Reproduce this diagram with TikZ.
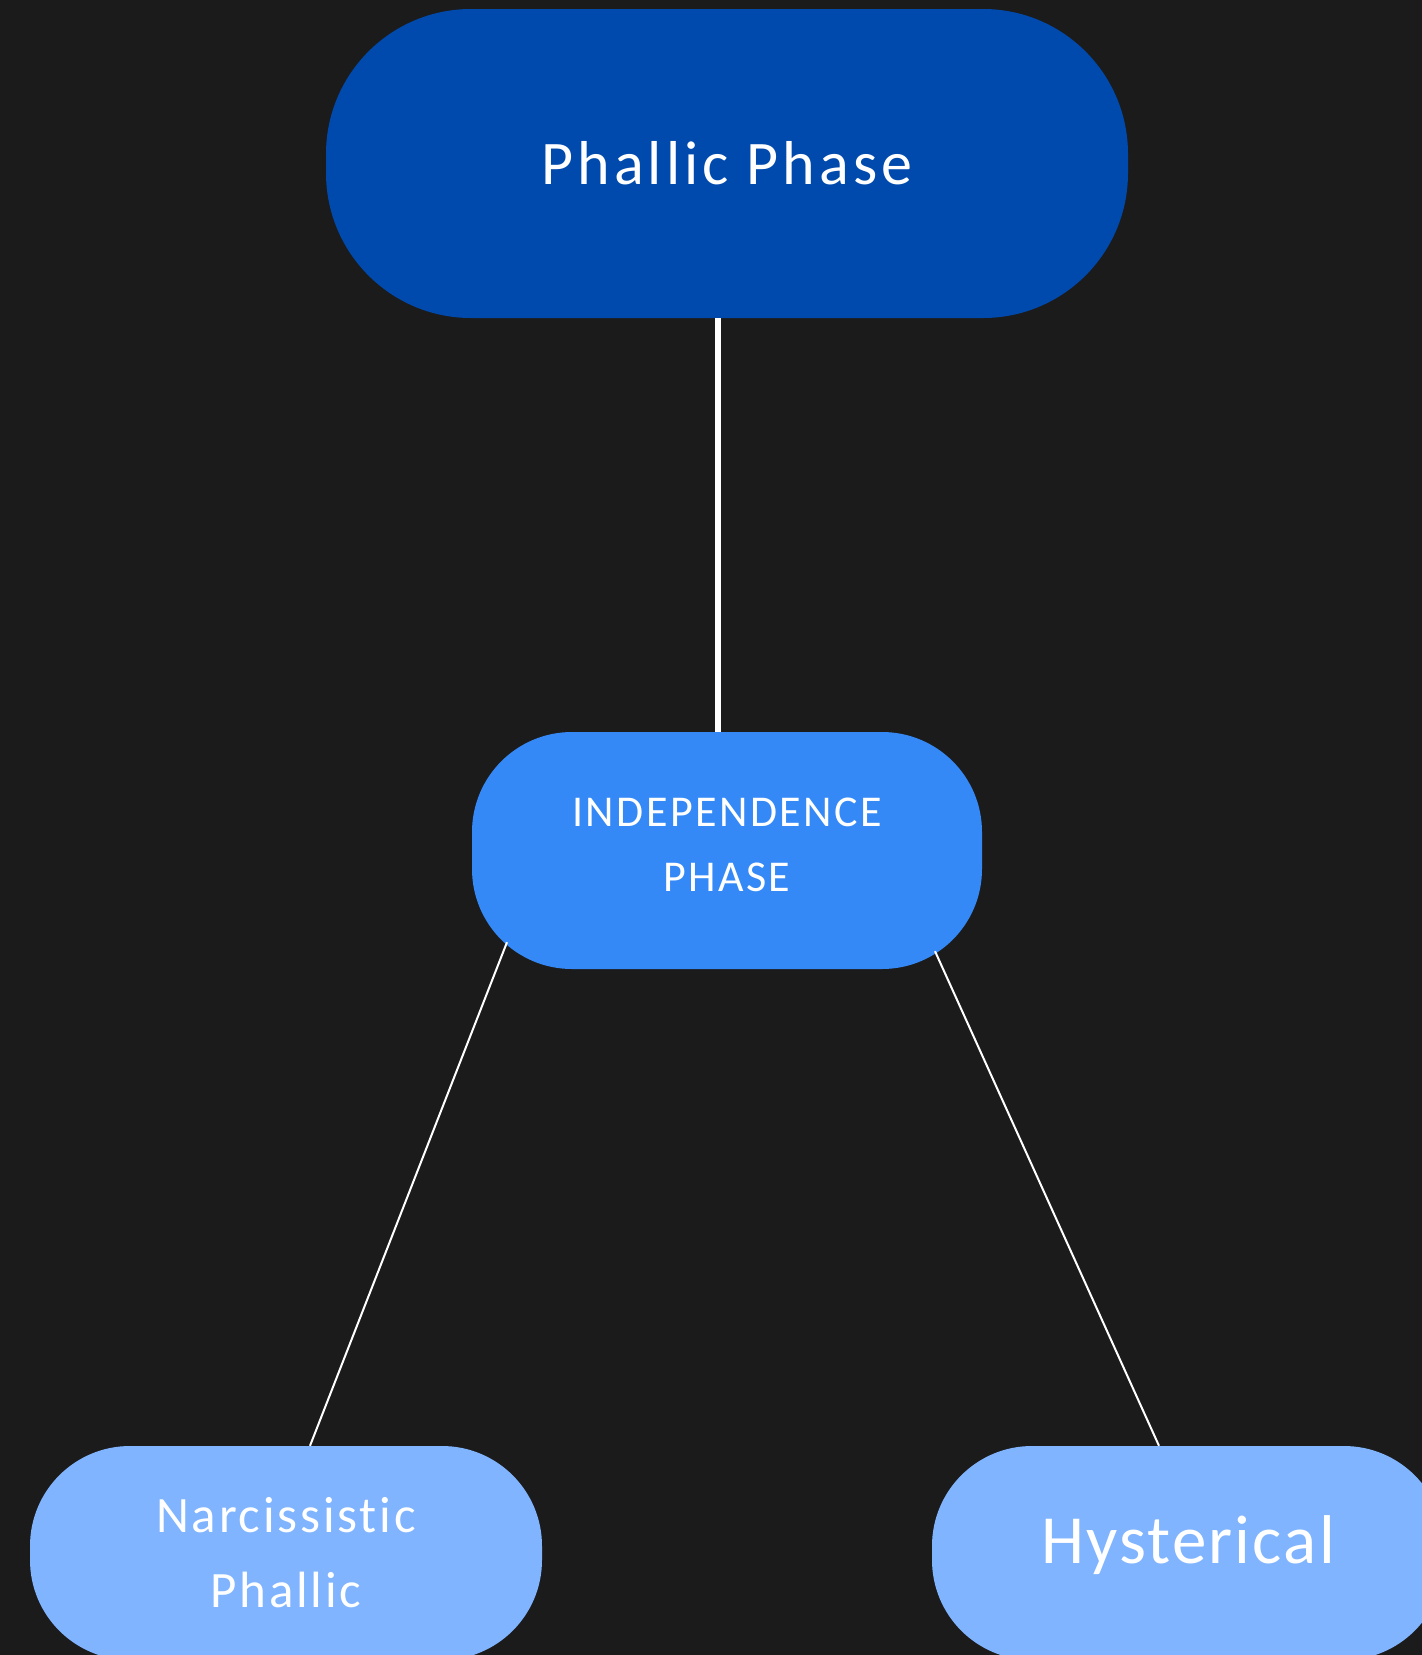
\documentclass[tikz,border=0pt]{standalone}
\usepackage{fontspec}
\setmainfont{Carlito}[Ligatures=NoCommon]
\newfontfamily\trackedfont[LetterSpace=5.5,Ligatures=NoCommon]{Carlito}
\newfontfamily\toptrackfont[LetterSpace=6.5,Ligatures=NoCommon]{Carlito}
\newfontfamily\lighttrackfont[LetterSpace=3.2,Ligatures=NoCommon]{Carlito}
\definecolor{bgc}{RGB}{27,27,27}
\definecolor{darkblue}{RGB}{0,74,173}
\definecolor{midblue}{RGB}{52,137,247}
\definecolor{lightblue}{RGB}{128,180,255}
\begin{document}
\begin{tikzpicture}[x=1pt,y=-1pt,
  pill/.style={inner sep=0pt, text=white, align=center},
  toppill/.style={pill, fill=darkblue, minimum width=802pt, minimum height=309pt, rounded corners=145pt},
  midpill/.style={pill, fill=midblue, minimum width=510pt, minimum height=237pt, rounded corners=100pt},
  leafpill/.style={pill, fill=lightblue, minimum width=512pt, minimum height=214pt, rounded corners=100pt},
  thickconn/.style={draw=white, line width=5.5pt},
  thinconn/.style={draw=white, line width=2pt}]
\fill[bgc] (0,0) rectangle (1422,1655);
\useasboundingbox (0,0) rectangle (1422,1655);
\node[toppill, font=\toptrackfont\fontsize{62}{74}\selectfont] (top) at (727,163.5) {Phallic Phase};
\node[midpill, font=\trackedfont\fontsize{44}{65}\selectfont, text depth=11pt] (mid) at (727,850.5) {INDEPENDENCE\\PHASE};
\node[leafpill, font=\trackedfont\fontsize{51}{75}\selectfont] (narc) at (286,1553) {Narcissistic\\Phallic};
\node[leafpill, font=\lighttrackfont\fontsize{69}{80}\selectfont, text depth=27pt] (hyst) at (1188,1553) {Hysterical};
\draw[thickconn] ([xshift=-9pt]top.south) -- ([xshift=-9pt]top.south |- mid.north);
\draw[thinconn] ([shift={(-220,-27)}]mid.south) -- ([xshift=24pt]narc.north);
\draw[thinconn] ([shift={(208,-18)}]mid.south) -- ([xshift=-29pt]hyst.north);
\end{tikzpicture}
\end{document}
